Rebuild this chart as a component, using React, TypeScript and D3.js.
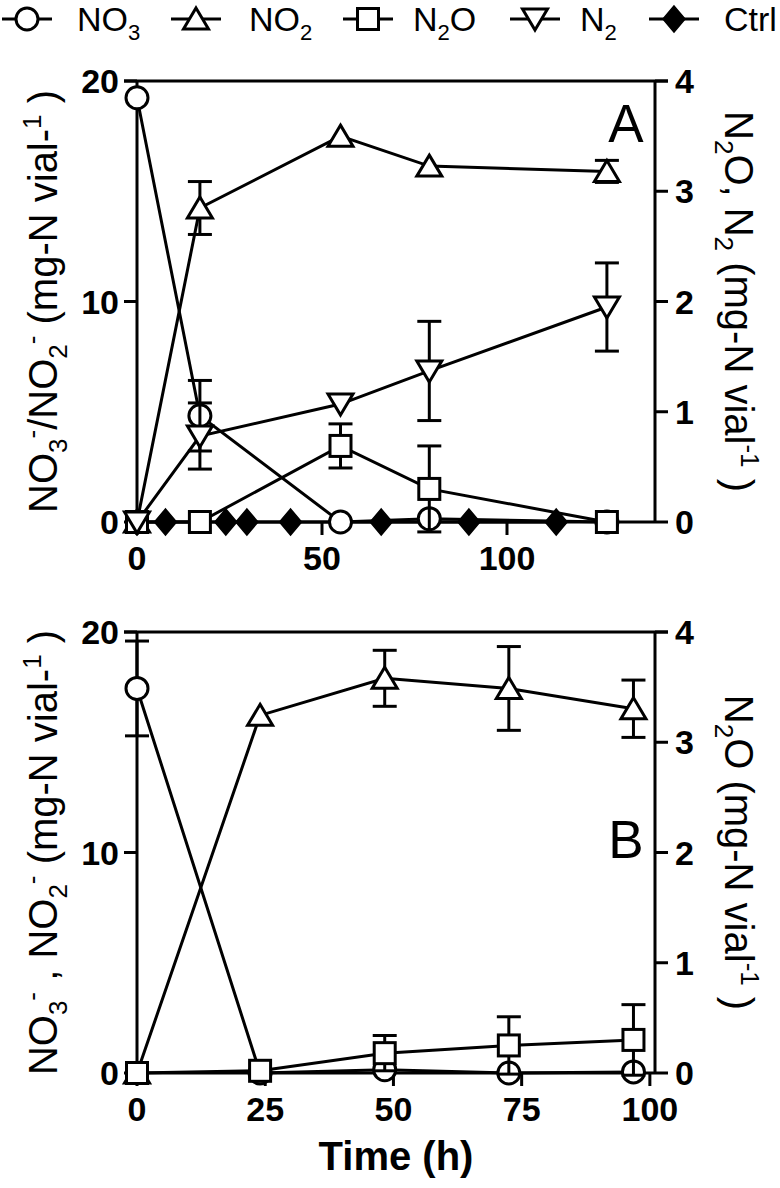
import React from "react";
import * as d3 from "d3";

// ---------- data ----------
const timesA = [0, 17, 55, 79, 127];
const no3A = [19.24, 4.82, 0, 0.15, 0];
const no3AErr = [0, 1.6, 0, 0, 0];
const no2A = [0, 14.24, 17.5, 16.14, 15.9];
const no2AErr = [0, 1.2, 0, 0, 0.5];
const n2oA = [0, 0, 0.69, 0.3, 0];
const n2oAErr = [0, 0, 0.2, 0.39, 0];
const n2A = [0, 0.78, 1.07, 1.37, 1.95];
const n2AErr = [0, 0.3, 0, 0.45, 0.4];
const ctrlTimesA = [0, 7.7, 24, 29.7, 41.5, 66, 89.7, 113.3];
const ctrlA = [0, 0, 0, 0, 0, 0, 0, 0];

const timesB = [0, 24, 48.3, 72.5, 96.8];
const no3B = [17.44, 0, 0.15, 0, 0.05];
const no3BErr = [2.15, 0, 0, 0, 0];
const no2B = [0, 16.22, 17.9, 17.44, 16.52];
const no2BErr = [0, 0, 1.27, 1.9, 1.3];
const n2oB = [0, 0.02, 0.18, 0.25, 0.3];
const n2oBErr = [0, 0, 0.16, 0.26, 0.32];

const leftTicks = [0, 10, 20];
const rightTicks = [0, 1, 2, 3, 4];
const xTicksA = [0, 50, 100];
const xTicksB = [0, 25, 50, 75, 100];
const xDomainA = [0, 140];
const xDomainB = [0, 101];
const leftDomain = [0, 20];
const rightDomain = [0, 4];

const legendItems = [
  { m: "circle", label: [["NO", ""], ["3", "sub"]] },
  { m: "tri", label: [["NO", ""], ["2", "sub"]] },
  { m: "square", label: [["N", ""], ["2", "sub"], ["O", ""]] },
  { m: "itri", label: [["N", ""], ["2", "sub"]] },
  { m: "diamond", label: [["Ctrl", ""]] },
];

// ---------- layout ----------
const W = 780, H = 1188;
const X0 = 137, X1 = 655;
const A_TOP = 81, A_BOT = 522;
const B_TOP = 632, B_BOT = 1073;
const TICK = 13;
const FONT = "'Liberation Sans', Arial, Helvetica, sans-serif";
const SW = 3;
const TFS = 34;

type Part = [string, string];

function Rich({ parts, fs }: { parts: Part[]; fs: number }) {
  let prev = 0;
  return (
    <>
      {parts.map(([s, k], i) => {
        const shift = k === "sub" ? fs * 0.25 : k === "sup" ? -fs * 0.4 : 0;
        const dy = shift - prev;
        prev = shift;
        return (
          <tspan key={i} dy={dy} fontSize={k ? fs * 0.65 : fs}>
            {s}
          </tspan>
        );
      })}
    </>
  );
}

function Marker({ type, cx, cy }: { type: string; cx: number; cy: number }) {
  if (type === "circle")
    return <circle cx={cx} cy={cy} r={11} fill="#fff" stroke="#000" strokeWidth={SW} />;
  if (type === "square")
    return <rect x={cx - 10.5} y={cy - 10.5} width={21} height={21} fill="#fff" stroke="#000" strokeWidth={SW} />;
  if (type === "tri")
    return (
      <polygon
        points={`${cx},${cy - 11} ${cx + 12.5},${cy + 10} ${cx - 12.5},${cy + 10}`}
        fill="#fff" stroke="#000" strokeWidth={SW} strokeLinejoin="miter"
      />
    );
  if (type === "itri")
    return (
      <polygon
        points={`${cx},${cy + 11} ${cx + 12.5},${cy - 10} ${cx - 12.5},${cy - 10}`}
        fill="#fff" stroke="#000" strokeWidth={SW} strokeLinejoin="miter"
      />
    );
  return (
    <polygon
      points={`${cx},${cy - 13} ${cx + 11},${cy} ${cx},${cy + 13} ${cx - 11},${cy}`}
      fill="#000" stroke="#000" strokeWidth={1.5}
    />
  );
}

type Series = { t: number[]; v: number[]; e?: number[]; axis: "L" | "R"; m: string };

function Panel({
  top, bot, xDomain, xTicks, series, label, labelBase, leftTitle, rightTitle,
}: {
  top: number; bot: number; xDomain: number[]; xTicks: number[]; series: Series[];
  label: string; labelBase: number; leftTitle: Part[]; rightTitle: Part[];
}) {
  const x = d3.scaleLinear().domain(xDomain).range([X0, X1]);
  const yL = d3.scaleLinear().domain(leftDomain).range([bot, top]);
  const yR = d3.scaleLinear().domain(rightDomain).range([bot, top]);
  const mid = (top + bot) / 2;
  const lineGen = (s: Series) => {
    const y = s.axis === "L" ? yL : yR;
    return d3
      .line<number>()
      .x((_, i) => x(s.t[i]))
      .y((d) => y(d))(s.v) as string;
  };
  return (
    <g>
      <line x1={X0 - TICK} x2={X1 + TICK} y1={top} y2={top} stroke="#000" strokeWidth={SW} />
      <line x1={X0} x2={X0} y1={top} y2={bot} stroke="#000" strokeWidth={SW} />
      <line x1={X1} x2={X1} y1={top} y2={bot} stroke="#000" strokeWidth={SW} />
      <line x1={X0} x2={X1} y1={bot} y2={bot} stroke="#000" strokeWidth={SW} />
      {leftTicks.map((t) => (
        <g key={"l" + t}>
          <line x1={X0 - TICK} x2={X0} y1={yL(t)} y2={yL(t)} stroke="#000" strokeWidth={SW} />
          <text x={X0 - TICK - 5} y={yL(t) + 12} textAnchor="end" fontFamily={FONT} fontWeight="bold" fontSize={TFS}>
            {t}
          </text>
        </g>
      ))}
      {rightTicks.map((t) => (
        <g key={"r" + t}>
          <line x1={X1} x2={X1 + TICK} y1={yR(t)} y2={yR(t)} stroke="#000" strokeWidth={SW} />
          <text x={X1 + TICK + 7} y={yR(t) + 12} textAnchor="start" fontFamily={FONT} fontWeight="bold" fontSize={TFS}>
            {t}
          </text>
        </g>
      ))}
      {xTicks.map((t) => (
        <g key={"x" + t}>
          <line x1={x(t)} x2={x(t)} y1={bot} y2={bot + TICK} stroke="#000" strokeWidth={SW} />
          <text x={x(t)} y={bot + 48} textAnchor="middle" fontFamily={FONT} fontWeight="bold" fontSize={TFS}>
            {t}
          </text>
        </g>
      ))}
      <text
        transform={`translate(57,${mid}) rotate(-90)`}
        textAnchor="middle" fontFamily={FONT} fontSize={40} style={{ whiteSpace: "pre" }}
      >
        <Rich parts={leftTitle} fs={40} />
      </text>
      <text
        transform={`translate(725,${mid}) rotate(90)`}
        textAnchor="middle" fontFamily={FONT} fontSize={40} style={{ whiteSpace: "pre" }}
      >
        <Rich parts={rightTitle} fs={40} />
      </text>
      <text x={626} y={labelBase} textAnchor="middle" fontFamily={FONT} fontSize={53}>
        {label}
      </text>
      {series.map((s, i) => (
        <path key={"p" + i} d={lineGen(s)} fill="none" stroke="#000" strokeWidth={SW} />
      ))}
      {series.map((s, i) => {
        const y = s.axis === "L" ? yL : yR;
        return (
          <g key={"s" + i}>
            {s.e &&
              s.e.map((e, j) =>
                e > 0 ? (
                  <g key={"e" + j}>
                    <line x1={x(s.t[j])} x2={x(s.t[j])} y1={y(s.v[j] - e)} y2={y(s.v[j] + e)} stroke="#000" strokeWidth={SW} />
                    <line x1={x(s.t[j]) - 12} x2={x(s.t[j]) + 12} y1={y(s.v[j] + e)} y2={y(s.v[j] + e)} stroke="#000" strokeWidth={SW} />
                    <line x1={x(s.t[j]) - 12} x2={x(s.t[j]) + 12} y1={y(s.v[j] - e)} y2={y(s.v[j] - e)} stroke="#000" strokeWidth={SW} />
                  </g>
                ) : null
              )}
            {s.v.map((v, j) => (
              <Marker key={"m" + j} type={s.m} cx={x(s.t[j])} cy={y(v)} />
            ))}
          </g>
        );
      })}
    </g>
  );
}

function Legend() {
  const centers = [27, 196, 368, 535, 674];
  const textX = [77, 249, 413, 580, 724];
  const cy = 19;
  return (
    <g>
      {legendItems.map((it, i) => (
        <g key={i}>
          <line x1={centers[i] - 25} x2={centers[i] + 25} y1={cy} y2={cy} stroke="#000" strokeWidth={SW} />
          <Marker type={it.m} cx={centers[i]} cy={cy} />
          <text x={textX[i]} y={cy + 12} fontFamily={FONT} fontSize={34} style={{ whiteSpace: "pre" }}>
            <Rich parts={it.label as Part[]} fs={34} />
          </text>
        </g>
      ))}
    </g>
  );
}

export default function App() {
  const seriesA: Series[] = [
    { t: ctrlTimesA, v: ctrlA, axis: "L", m: "diamond" },
    { t: timesA, v: no2A, e: no2AErr, axis: "L", m: "tri" },
    { t: timesA, v: no3A, e: no3AErr, axis: "L", m: "circle" },
    { t: timesA, v: n2oA, e: n2oAErr, axis: "R", m: "square" },
    { t: timesA, v: n2A, e: n2AErr, axis: "R", m: "itri" },
  ];
  const seriesB: Series[] = [
    { t: timesB, v: no2B, e: no2BErr, axis: "L", m: "tri" },
    { t: timesB, v: no3B, e: no3BErr, axis: "L", m: "circle" },
    { t: timesB, v: n2oB, e: n2oBErr, axis: "R", m: "square" },
  ];
  return (
    <svg width={W} height={H} style={{ position: "absolute", left: 0, top: 0, background: "#fff" }}>
      <rect width={W} height={H} fill="#fff" />
      <Legend />
      <Panel
        top={A_TOP} bot={A_BOT} xDomain={xDomainA} xTicks={xTicksA} series={seriesA}
        label="A" labelBase={142}
        leftTitle={[["NO", ""], ["3", "sub"], ["-", "sup"], ["/NO", ""], ["2", "sub"], ["-", "sup"], [" (mg-N vial-", ""], ["1", "sup"], [" )", ""]]}
        rightTitle={[["N", ""], ["2", "sub"], ["O, N", ""], ["2", "sub"], [" (mg-N vial", ""], ["-1", "sup"], [" )", ""]]}
      />
      <Panel
        top={B_TOP} bot={B_BOT} xDomain={xDomainB} xTicks={xTicksB} series={seriesB}
        label="B" labelBase={858}
        leftTitle={[["NO", ""], ["3", "sub"], ["-", "sup"], [" , NO", ""], ["2", "sub"], ["-", "sup"], [" (mg-N vial-", ""], ["1", "sup"], [" )", ""]]}
        rightTitle={[["N", ""], ["2", "sub"], ["O (mg-N vial", ""], ["-1", "sup"], [" )", ""]]}
      />
      <text x={(X0 + X1) / 2} y={1170} textAnchor="middle" fontFamily={FONT} fontWeight="bold" fontSize={40}>
        Time (h)
      </text>
    </svg>
  );
}
